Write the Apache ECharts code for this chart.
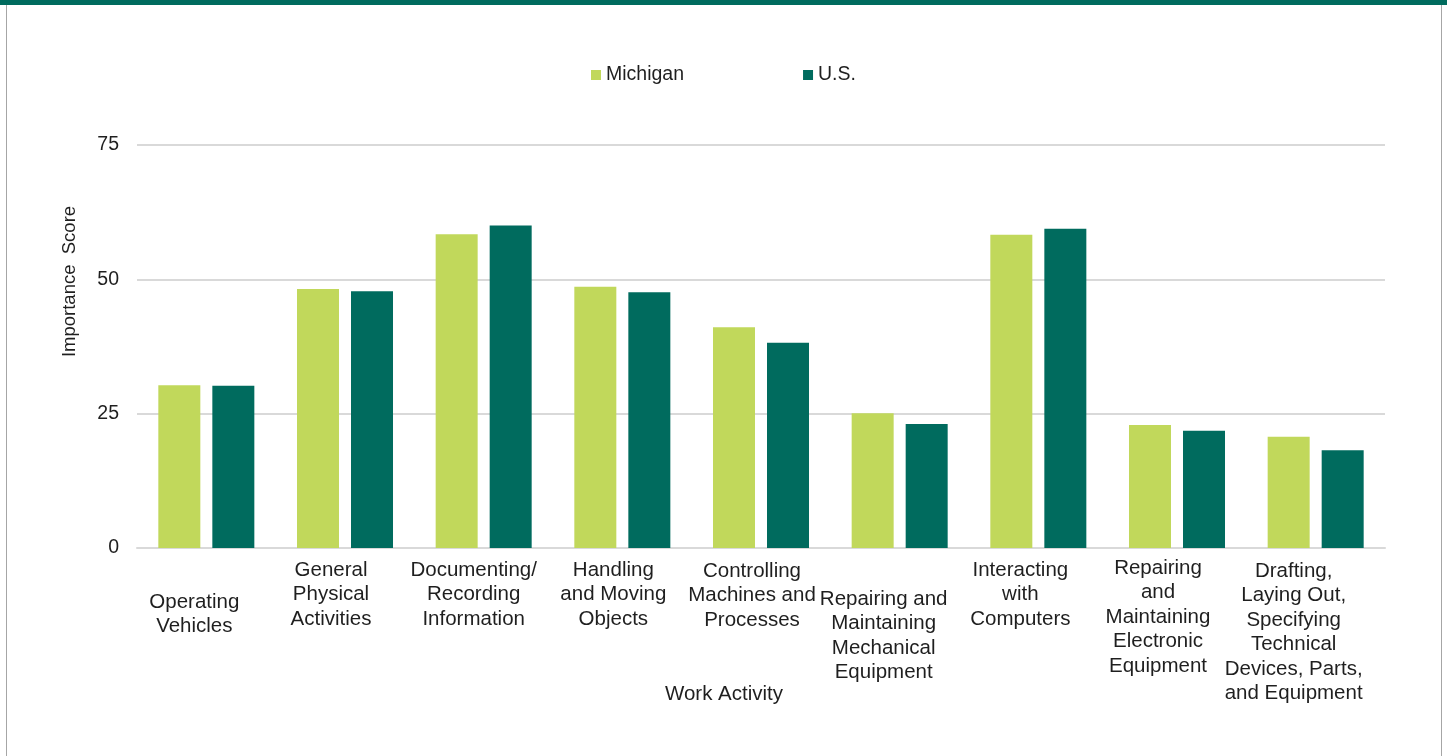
<!DOCTYPE html>
<html>
<head>
<meta charset="utf-8">
<style>
html, body { margin: 0; padding: 0; background: #fff; }
#frame { position: absolute; left: 6px; top: 0; width: 1436px; height: 756px;
  border-left: 1px solid #a6a6a6; border-right: 1px solid #a6a6a6; box-sizing: border-box; }
#band { position: absolute; left: 0; top: 0; width: 1447px; height: 5px; background: #006b5e; }
#chart { position: absolute; left: 0; top: 0; width: 1447px; height: 756px; }
</style>
<script src="https://cdn.jsdelivr.net/npm/echarts@6/dist/echarts.min.js"></script>
</head>
<body>
<div id="frame"></div>
<div id="band"></div>
<div id="chart"></div>
<script>
const categories = [
  "Operating\nVehicles",
  "General\nPhysical\nActivities",
  "Documenting/\nRecording\nInformation",
  "Handling\nand Moving\nObjects",
  "Controlling\nMachines and\nProcesses",
  "Repairing and\nMaintaining\nMechanical\nEquipment",
  "Interacting\nwith\nComputers",
  "Repairing\nand\nMaintaining\nElectronic\nEquipment",
  "Drafting,\nLaying Out,\nSpecifying\nTechnical\nDevices, Parts,\nand Equipment"
];
const michigan = [30.3, 48.2, 58.4, 48.6, 41.1, 25.1, 58.3, 22.9, 20.7];
const us = [30.2, 47.8, 60.0, 47.6, 38.2, 23.1, 59.4, 21.8, 18.2];
const yTicks = { min: 0, max: 75, step: 25 };

// label placement tweaks (top offset, left shift) to mimic the original layout
const labelTop = [34, 2, 2, 2, 3, 31, 2, 0, 3];
const labelShift = [12, 14, 10, 9, 9, 16, 18, 19, 22];

const txt = "#1f1f1f";
const font = "Liberation Sans, Arial, sans-serif";

const chart = echarts.init(document.getElementById("chart"), null, { renderer: "canvas" });
chart.setOption({
  animation: false,
  backgroundColor: "transparent",
  textStyle: { fontFamily: font, color: txt },
  legend: {
    left: 586, top: 60,
    itemWidth: 10, itemHeight: 10, itemGap: 119,
    icon: "rect",
    textStyle: { fontSize: 19.5, color: txt, fontFamily: font },
    data: ["Michigan", "U.S."]
  },
  grid: { left: 137, right: 62, top: 145, bottom: 208, containLabel: false },
  xAxis: {
    type: "category",
    data: categories.map((c, i) => ({
      value: c,
      textStyle: { padding: [labelTop[i], labelShift[i] * 2, 0, 0] }
    })),
    axisLine: { show: true, lineStyle: { color: "#d9d9d9", width: 2 } },
    axisTick: { show: false },
    axisLabel: { interval: 0, margin: 8, fontSize: 20.5, lineHeight: 24.5, color: txt, fontFamily: font, align: "center" },
    name: "Work Activity",
    nameLocation: "middle",
    nameGap: 136,
    nameMoveOverlap: false,
    nameTextStyle: { fontSize: 20.5, color: txt, fontFamily: font, padding: [0, 74, 0, 0] }
  },
  yAxis: {
    type: "value",
    min: yTicks.min, max: yTicks.max, interval: yTicks.step,
    axisLine: { show: false },
    axisTick: { show: false },
    splitLine: { lineStyle: { color: "#d9d9d9", width: 2 } },
    axisLabel: { fontSize: 19.5, color: txt, fontFamily: font, margin: 18 },
    name: "Importance  Score",
    nameLocation: "middle",
    nameGap: 58,
    nameRotate: 90,
    nameMoveOverlap: false,
    nameTextStyle: { fontSize: 18.5, color: txt, fontFamily: font, padding: [0, 0, 0, 130] }
  },
  series: [
    { name: "Michigan", type: "bar", data: michigan, barWidth: 42, barGap: "28.6%",
      itemStyle: { color: "#c1d85b" } },
    { name: "U.S.", type: "bar", data: us, barWidth: 42,
      itemStyle: { color: "#006b5e" } }
  ]
});
</script>
</body>
</html>
